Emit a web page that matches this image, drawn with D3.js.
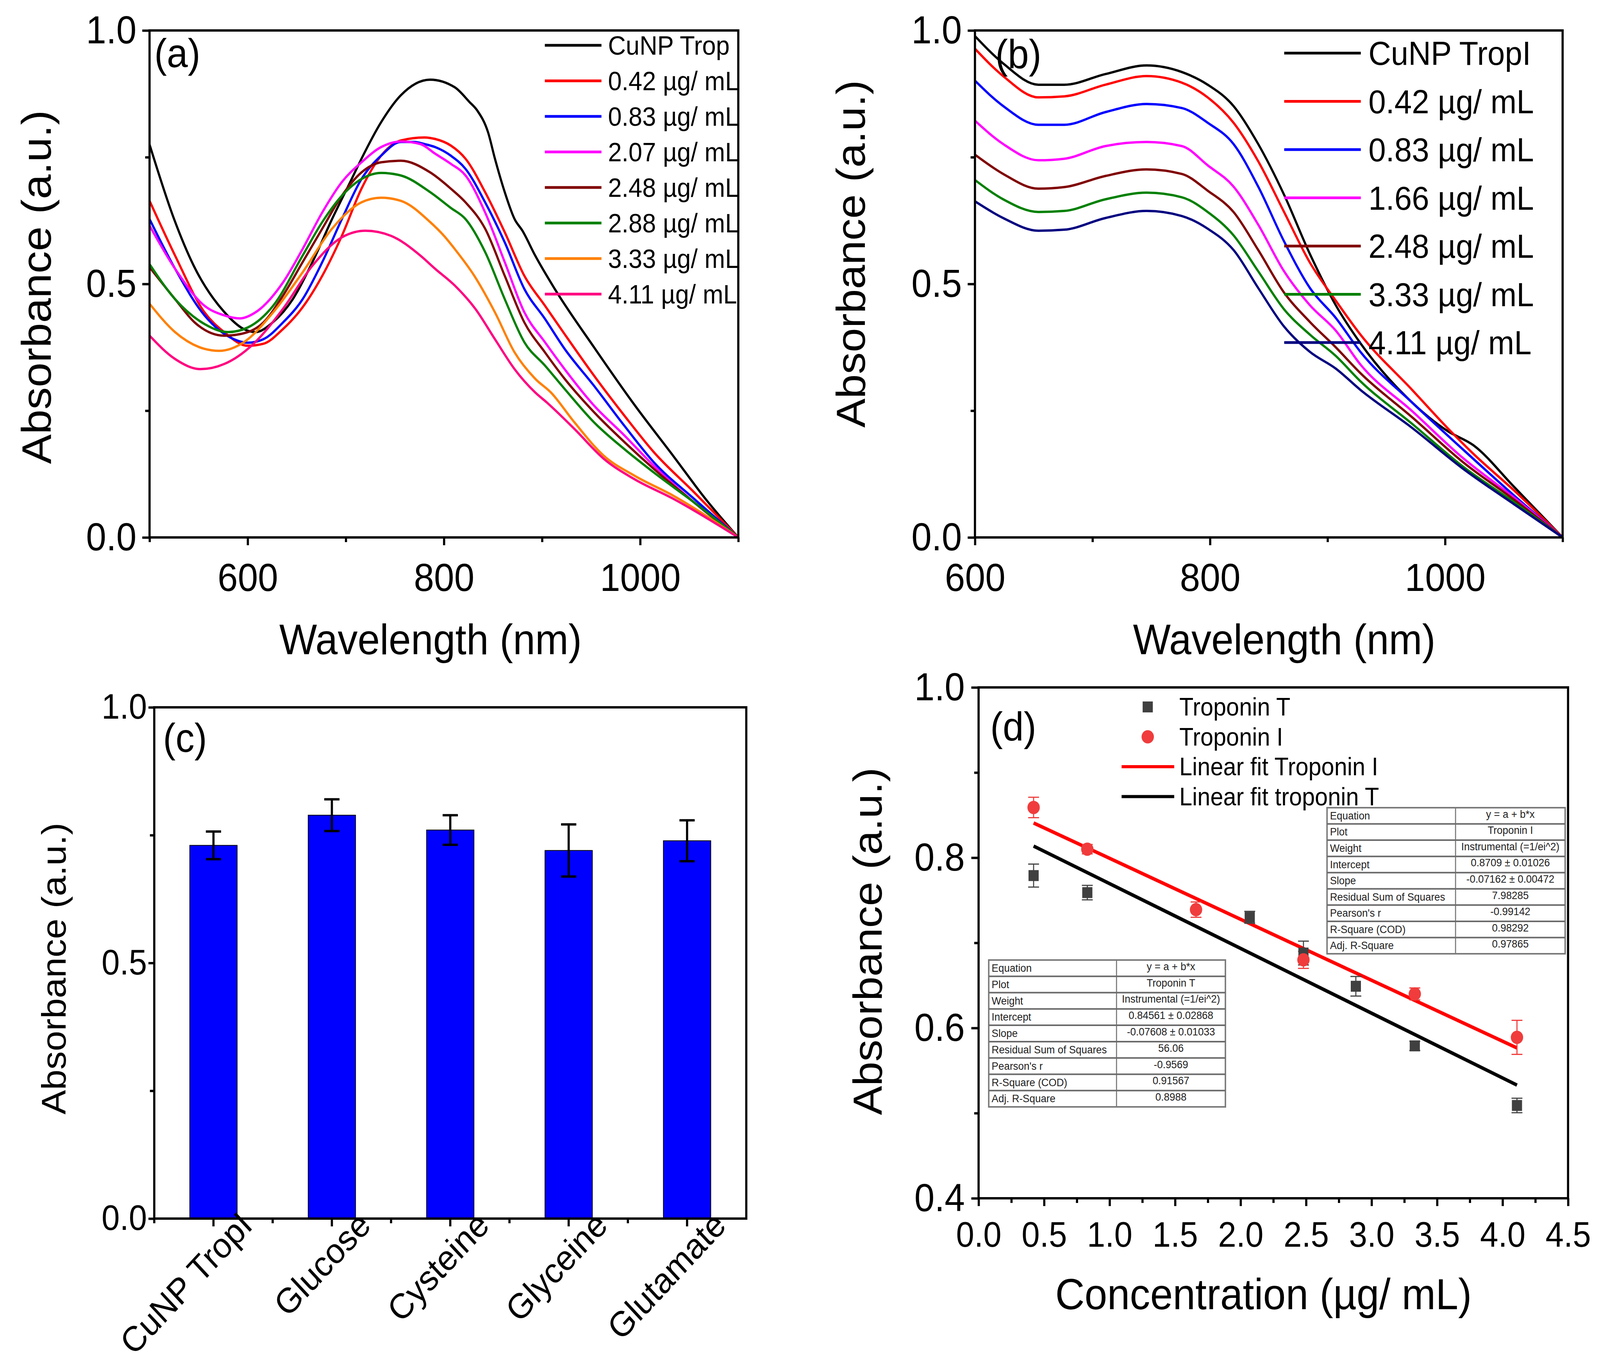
<!DOCTYPE html>
<html>
<head>
<meta charset="utf-8">
<script src="https://cdn.jsdelivr.net/npm/d3@7"></script>
<style>
  html, body { margin: 0; padding: 0; background: #fff; overflow: hidden; }
  svg { display: block; width: 100vw; height: 100vh;
        font-family: "Liberation Sans", Arial, sans-serif; }
</style>
</head>
<body>
<svg id="fig" viewBox="0 0 4408 3500" preserveAspectRatio="none"></svg>
<script>
/*********************************************************************
 * 4-panel figure: (a) (b) absorbance spectra, (c) selectivity bars,
 * (d) calibration with linear fits
 *********************************************************************/

/* ─────────────────── (a) spectra ─────────────────────────────── */
const LABELS_A = ['CuNP Trop', '0.42 µg/ mL', '0.83 µg/ mL', '2.07 µg/ mL',
                  '2.48 µg/ mL', '2.88 µg/ mL', '3.33 µg/ mL', '4.11 µg/ mL'];
const SPECTRA_A = [
  [[500,0.775],[525,0.628],[545,0.536],[576,0.445],[596,0.411],[608,0.405],[626,0.425],[646,0.470],
   [666,0.543],[686,0.628],[706,0.707],[716,0.747],[736,0.819],[756,0.872],[786,0.903],[811,0.888],
   [826,0.859],[834,0.842],[845,0.799],[852,0.747],[862,0.681],[872,0.628],[880,0.605],[893,0.556],
   [913,0.490],[953,0.375],[994,0.262],[1034,0.160],[1067,0.075],[1100,0]],
  [[500,0.664],[526,0.556],[556,0.444],[576,0.405],[600,0.378],[616,0.382],[636,0.411],[656,0.454],
   [676,0.516],[696,0.595],[716,0.688],[736,0.753],[756,0.783],[780,0.789],[791,0.786],[807,0.773],
   [822,0.747],[842,0.681],[862,0.602],[882,0.516],[903,0.457],[923,0.401],[953,0.319],[984,0.240],
   [1014,0.168],[1055,0.089],[1100,0]],
  [[500,0.628],[526,0.530],[556,0.438],[586,0.391],[600,0.384],[616,0.391],[636,0.424],[656,0.470],
   [676,0.543],[696,0.628],[716,0.707],[736,0.753],[756,0.780],[770,0.780],[780,0.776],[791,0.770],
   [807,0.753],[822,0.727],[842,0.661],[862,0.582],[882,0.490],[903,0.431],[923,0.372],[953,0.299],
   [984,0.220],[1014,0.148],[1055,0.076],[1100,0]],
  [[500,0.615],[526,0.530],[556,0.457],[576,0.438],[592,0.432],[608,0.444],[636,0.503],[656,0.569],
   [676,0.641],[696,0.701],[716,0.740],[736,0.770],[756,0.781],[776,0.776],[791,0.757],[807,0.737],
   [822,0.714],[842,0.641],[862,0.543],[882,0.444],[903,0.385],[923,0.332],[953,0.260],[984,0.201],
   [1014,0.141],[1055,0.069],[1100,0]],
  [[500,0.533],[526,0.470],[546,0.424],[576,0.398],[592,0.401],[616,0.424],[636,0.477],[656,0.543],
   [676,0.609],[696,0.674],[716,0.720],[736,0.740],[756,0.743],[786,0.720],[807,0.688],[822,0.661],
   [842,0.609],[862,0.516],[882,0.424],[903,0.365],[923,0.313],[953,0.247],[984,0.188],[1014,0.135],
   [1055,0.069],[1100,0]],
  [[500,0.539],[526,0.470],[556,0.421],[580,0.405],[600,0.414],[626,0.457],[656,0.556],[676,0.622],
   [696,0.674],[716,0.707],[736,0.719],[756,0.714],[786,0.681],[807,0.650],[822,0.628],[842,0.563],
   [862,0.470],[882,0.385],[903,0.339],[923,0.293],[953,0.227],[984,0.174],[1014,0.128],[1055,0.069],
   [1100,0]],
  [[500,0.461],[526,0.405],[556,0.372],[571,0.368],[596,0.385],[626,0.444],[656,0.523],[686,0.609],
   [716,0.661],[736,0.670],[756,0.664],[786,0.622],[800,0.595],[811,0.569],[831,0.516],[852,0.444],
   [872,0.365],[893,0.313],[909,0.286],[933,0.227],[963,0.161],[994,0.122],[1034,0.082],[1100,0]],
  [[500,0.398],[526,0.352],[552,0.332],[576,0.342],[606,0.382],[636,0.451],[666,0.536],[696,0.592],
   [720,0.605],[746,0.595],[776,0.556],[791,0.530],[811,0.497],[832,0.451],[852,0.391],[872,0.332],
   [893,0.286],[905,0.266],[933,0.214],[963,0.155],[994,0.115],[1034,0.076],[1100,0]]
];

/* ─────────────────── (b) spectra ─────────────────────────────── */
const LABELS_B = ['CuNP TropI', '0.42 µg/ mL', '0.83 µg/ mL', '1.66 µg/ mL',
                  '2.48 µg/ mL', '3.33 µg/ mL', '4.11 µg/ mL'];
const SPECTRA_B = [
  [[600,0.989],[624,0.935],[654,0.893],[676,0.893],[711,0.914],[746,0.931],[776,0.918],[798,0.893],
   [820,0.851],[841,0.776],[863,0.676],[885,0.559],[907,0.458],[928,0.383],[972,0.266],[1002,0.210],
   [1024,0.182],[1059,0.099],[1100,0]],
  [[600,0.964],[624,0.910],[654,0.868],[676,0.870],[711,0.893],[746,0.910],[776,0.897],[798,0.868],
   [820,0.818],[841,0.742],[863,0.642],[885,0.542],[907,0.467],[928,0.400],[972,0.291],[1002,0.216],
   [1024,0.165],[1059,0.092],[1100,0]],
  [[600,0.901],[624,0.851],[654,0.814],[676,0.814],[711,0.839],[746,0.855],[776,0.847],[798,0.818],
   [820,0.776],[841,0.692],[863,0.584],[885,0.492],[907,0.433],[928,0.366],[972,0.266],[1015,0.174],
   [1059,0.082],[1100,0]],
  [[600,0.822],[624,0.776],[654,0.744],[676,0.747],[711,0.772],[746,0.780],[776,0.772],[798,0.734],
   [820,0.692],[841,0.617],[863,0.525],[885,0.458],[907,0.408],[928,0.341],[972,0.249],[1015,0.157],
   [1059,0.078],[1100,0]],
  [[600,0.755],[624,0.717],[654,0.688],[676,0.691],[711,0.713],[746,0.726],[776,0.717],[798,0.684],
   [820,0.642],[841,0.567],[863,0.483],[885,0.425],[907,0.375],[928,0.324],[972,0.237],[1015,0.149],
   [1059,0.074],[1100,0]],
  [[600,0.705],[624,0.667],[654,0.642],[676,0.644],[711,0.667],[746,0.680],[776,0.671],[798,0.642],
   [820,0.596],[841,0.525],[863,0.450],[885,0.400],[907,0.358],[928,0.308],[972,0.224],[1015,0.140],
   [1059,0.069],[1100,0]],
  [[600,0.663],[624,0.630],[654,0.605],[676,0.607],[711,0.630],[746,0.644],[776,0.634],[798,0.609],
   [820,0.567],[841,0.492],[863,0.416],[885,0.366],[907,0.333],[928,0.291],[972,0.216],[1015,0.136],
   [1059,0.065],[1100,0]]
];

/* ─────────────────── (c) selectivity ─────────────────────────── */
const CATS_C = ['CuNP TropI', 'Glucose', 'Cysteine', 'Glyceine', 'Glutamate'];
const ABS_C  = [0.730, 0.789, 0.760, 0.720, 0.739];
const ERR_C  = [0.027, 0.031, 0.029, 0.051, 0.040];

/* ─────────────────── (d) calibration ─────────────────────────── */
const CONC_T = [0.42, 0.83, 2.07, 2.48, 2.88, 3.33, 4.11];
const ABS_T  = [0.779, 0.759, 0.730, 0.688, 0.649, 0.579, 0.509];
const ERR_T  = [0.0135, 0.0085, 0.007, 0.014, 0.0115, 0.0055, 0.0085];
const CONC_I = [0.42, 0.83, 1.66, 2.48, 3.33, 4.11];
const ABS_I  = [0.859, 0.810, 0.739, 0.680, 0.640, 0.589];
const ERR_I  = [0.012, 0.0055, 0.009, 0.010, 0.007, 0.020];
const FIT_I  = [0.8709, -0.07162];     // a, b
const FIT_T  = [0.84561, -0.07608];

const TABLE_I = [
  ['Equation', 'y = a + b*x'], ['Plot', 'Troponin I'], ['Weight', 'Instrumental (=1/ei^2)'],
  ['Intercept', '0.8709 ± 0.01026'], ['Slope', '-0.07162 ± 0.00472'],
  ['Residual Sum of Squares', '7.98285'], ["Pearson's r", '-0.99142'],
  ['R-Square (COD)', '0.98292'], ['Adj. R-Square', '0.97865']
];
const TABLE_T = [
  ['Equation', 'y = a + b*x'], ['Plot', 'Troponin T'], ['Weight', 'Instrumental (=1/ei^2)'],
  ['Intercept', '0.84561 ± 0.02868'], ['Slope', '-0.07608 ± 0.01033'],
  ['Residual Sum of Squares', '56.06'], ["Pearson's r", '-0.9569'],
  ['R-Square (COD)', '0.91567'], ['Adj. R-Square', '0.8988']
];

/* ─────────────────── styles ──────────────────────────────────── */
const COLORS_A = ['#000000', '#ff0000', '#0000ff', '#ff00ff', '#800000', '#008000', '#ff8000', '#ff0080'];
const COLORS_B = ['#000000', '#ff0000', '#0000ff', '#ff00ff', '#800000', '#008000', '#000080'];

const PA = { l: 412,  r: 2034, t: 78,   b: 1376 };
const PB = { l: 2686, r: 4305, t: 78,   b: 1376 };
const PC = { l: 425,  r: 2056, t: 1811, b: 3120 };
const PD = { l: 2696, r: 4320, t: 1760, b: 3068 };

const svg = d3.select('#fig');
const f1 = d3.format('.1f');

/* ─────────────────── helpers ─────────────────────────────────── */
function frame(g, p) {
  g.append('rect')
    .attr('x', p.l).attr('y', p.t)
    .attr('width', p.r - p.l).attr('height', p.b - p.t)
    .attr('fill', 'none').attr('stroke', '#000').attr('stroke-width', 6);
}

function styleAxis(sel, fs) {
  sel.attr('font-family', null).attr('font-size', null);
  sel.select('.domain').remove();
  sel.selectAll('line').attr('stroke', '#000').attr('stroke-width', 6);
  sel.selectAll('text').attr('fill', '#000').attr('font-size', fs);
}

function xAxis(g, p, x, major, minor, fmt, o) {
  g.append('g').attr('transform', `translate(0,${p.b})`)
    .call(d3.axisBottom(x).tickValues(minor).tickSize(12).tickSizeOuter(0).tickFormat(''))
    .call(s => styleAxis(s, 0));
  g.append('g').attr('transform', `translate(0,${p.b})`)
    .call(d3.axisBottom(x).tickValues(major).tickSize(20).tickSizeOuter(0)
      .tickPadding(o.pad).tickFormat(fmt))
    .call(s => styleAxis(s, o.fs));
}

function yAxis(g, p, y, major, minor, o) {
  g.append('g').attr('transform', `translate(${p.l},0)`)
    .call(d3.axisLeft(y).tickValues(minor).tickSize(12).tickSizeOuter(0).tickFormat(''))
    .call(s => styleAxis(s, 0));
  g.append('g').attr('transform', `translate(${p.l},0)`)
    .call(d3.axisLeft(y).tickValues(major).tickSize(o.tick || 20).tickSizeOuter(0)
      .tickPadding(o.pad).tickFormat(f1))
    .call(s => styleAxis(s, o.fs));
}

function yTitle(g, cx, cy, fs, txt) {
  g.append('text')
    .attr('transform', `translate(${cx},${cy}) rotate(-90)`)
    .attr('text-anchor', 'middle').attr('dominant-baseline', 'central')
    .attr('font-size', fs).text(txt);
}

function xTitle(g, cx, base, fs, txt) {
  g.append('text').attr('x', cx).attr('y', base)
    .attr('text-anchor', 'middle').attr('font-size', fs).text(txt);
}

function tag(g, x, base, txt) {
  g.append('text').attr('x', x).attr('y', base).attr('font-size', 104).text(txt);
}

/* ─────────────────── spectra panels (a) (b) ──────────────────── */
function spectraPanel(p, xDom, xMajor, xMinor, spectra, labels, colors, leg) {
  const g = svg.append('g');
  const x = d3.scaleLinear().domain(xDom).range([p.l, p.r]);
  const y = d3.scaleLinear().domain([0, 1]).range([p.b, p.t]);

  const line = d3.line()
    .x(d => x(d[0])).y(d => y(d[1]))
    .curve(d3.curveMonotoneX);

  g.append('g').attr('fill', 'none').attr('stroke-width', 6)
    .attr('stroke-linejoin', 'round')
    .selectAll('path')
    .data(spectra)
    .join('path')
      .attr('d', line)
      .attr('stroke', (_, i) => colors[i]);

  frame(g, p);
  xAxis(g, p, x, xMajor, xMinor, d3.format('d'), { pad: 46, fs: 100 });
  yAxis(g, p, y, [0, 0.5, 1], [0.25, 0.75], { pad: 16, fs: 100 });

  /* legend */
  const lg = g.append('g');
  labels.forEach((lab, i) => {
    const yy = leg.y0 + i * leg.dy;
    lg.append('line')
      .attr('x1', leg.x0).attr('x2', leg.x1).attr('y1', yy).attr('y2', yy)
      .attr('stroke', colors[i]).attr('stroke-width', 7);
    lg.append('text')
      .attr('x', leg.tx).attr('y', yy).attr('dy', '0.35em')
      .attr('font-size', leg.fs).text(lab);
  });
  return g;
}

const gA = spectraPanel(PA, [500, 1100], [600, 800, 1000], [500, 700, 900, 1100],
  SPECTRA_A, LABELS_A, COLORS_A,
  { x0: 1501, x1: 1657, tx: 1675, y0: 116, dy: 91, fs: 68 });
tag(gA, 425, 172, '(a)');
yTitle(gA, 100, 735, 114, 'Absorbance (a.u.)');
xTitle(gA, 1186, 1675, 110, 'Wavelength (nm)');

const gB = spectraPanel(PB, [600, 1100], [600, 800, 1000], [700, 900, 1100],
  SPECTRA_B, LABELS_B, COLORS_B,
  { x0: 3538, x1: 3749, tx: 3770, y0: 136, dy: 123.5, fs: 86 });
tag(gB, 2742, 174, '(b)');
yTitle(gB, 2344, 650, 112, 'Absorbance (a.u.)');
xTitle(gB, 3538, 1675, 110, 'Wavelength (nm)');

/* ─────────────────── (c) bars ────────────────────────────────── */
(function () {
  const p = PC;
  const g = svg.append('g');
  const x = d3.scaleBand().domain(CATS_C).range([p.l, p.r]);
  const y = d3.scaleLinear().domain([0, 1]).range([p.b, p.t]);
  const bw = x.bandwidth() * 0.4;
  const cx = d => x(d) + x.bandwidth() / 2;

  g.append('g').selectAll('rect')
    .data(CATS_C)
    .join('rect')
      .attr('x', d => cx(d) - bw / 2)
      .attr('width', bw)
      .attr('y', (_, i) => y(ABS_C[i]))
      .attr('height', (_, i) => y(0) - y(ABS_C[i]))
      .attr('fill', '#0000ff').attr('stroke', '#000').attr('stroke-width', 2);

  /* error bars */
  const eb = g.append('g').attr('stroke', '#000').attr('stroke-width', 6);
  CATS_C.forEach((c, i) => {
    const hi = y(ABS_C[i] + ERR_C[i]), lo = y(ABS_C[i] - ERR_C[i]);
    eb.append('line').attr('x1', cx(c)).attr('x2', cx(c)).attr('y1', hi).attr('y2', lo);
    eb.append('line').attr('x1', cx(c) - 21).attr('x2', cx(c) + 21).attr('y1', hi).attr('y2', hi);
    eb.append('line').attr('x1', cx(c) - 21).attr('x2', cx(c) + 21).attr('y1', lo).attr('y2', lo);
  });

  frame(g, p);

  /* bottom ticks: majors on bars, minors on band edges */
  const tk = g.append('g').attr('stroke', '#000').attr('stroke-width', 6);
  CATS_C.forEach(c => {
    tk.append('line').attr('x1', cx(c)).attr('x2', cx(c)).attr('y1', p.b).attr('y2', p.b + 20);
    tk.append('line').attr('x1', x(c)).attr('x2', x(c)).attr('y1', p.b).attr('y2', p.b + 12);
  });

  g.append('g').selectAll('text')
    .data(CATS_C)
    .join('text')
      .attr('transform', d => `translate(${cx(d) + 112},${p.b + 22}) rotate(-45)`)
      .attr('text-anchor', 'end')
      .attr('font-size', 90)
      .text(d => d);

  yAxis(g, p, y, [0, 0.5, 1], [0.25, 0.75], { pad: 4, fs: 90, tick: 16 });
  tag(g, 449, 1925, '(c)');
  yTitle(g, 148, 2480, 94, 'Absorbance (a.u.)');
})();

/* ─────────────────── (d) calibration ─────────────────────────── */
(function () {
  const p = PD;
  const g = svg.append('g');
  const x = d3.scaleLinear().domain([0, 4.5]).range([p.l, p.r]);
  const y = d3.scaleLinear().domain([0.4, 1.0]).range([p.b, p.t]);

  /* fit lines */
  const fitLine = (fit, xs, col) => {
    const [a, b] = fit;
    const x0 = d3.min(xs), x1 = d3.max(xs);
    g.append('line')
      .attr('x1', x(x0)).attr('y1', y(a + b * x0))
      .attr('x2', x(x1)).attr('y2', y(a + b * x1))
      .attr('stroke', col).attr('stroke-width', 9);
  };
  fitLine(FIT_T, CONC_T, '#000');
  fitLine(FIT_I, CONC_I, '#ff0000');

  /* error bars */
  const errs = (xs, ys, es, col) => {
    const e = g.append('g').attr('stroke', col).attr('stroke-width', 3);
    xs.forEach((xv, i) => {
      const X = x(xv), hi = y(ys[i] + es[i]), lo = y(ys[i] - es[i]);
      e.append('line').attr('x1', X).attr('x2', X).attr('y1', hi).attr('y2', lo);
      e.append('line').attr('x1', X - 15).attr('x2', X + 15).attr('y1', hi).attr('y2', hi);
      e.append('line').attr('x1', X - 15).attr('x2', X + 15).attr('y1', lo).attr('y2', lo);
    });
  };
  errs(CONC_T, ABS_T, ERR_T, '#444');
  errs(CONC_I, ABS_I, ERR_I, '#f03c3c');

  g.append('g').selectAll('rect')
    .data(CONC_T)
    .join('rect')
      .attr('x', d => x(d) - 14).attr('y', (_, i) => y(ABS_T[i]) - 14)
      .attr('width', 28).attr('height', 28)
      .attr('fill', '#404040');

  g.append('g').selectAll('circle')
    .data(CONC_I)
    .join('circle')
      .attr('cx', d => x(d)).attr('cy', (_, i) => y(ABS_I[i]))
      .attr('r', 17)
      .attr('fill', '#f03c3c');

  frame(g, p);
  xAxis(g, p, x, d3.range(0, 4.51, 0.5), d3.range(0.25, 4.5, 0.5), f1, { pad: 40, fs: 90 });
  yAxis(g, p, y, [0.4, 0.6, 0.8, 1.0], [0.5, 0.7, 0.9], { pad: 18, fs: 100 });

  /* legend */
  const lg = g.append('g');
  const LX = 3162, TX = 3249, L0 = 1810, LD = 76.5;
  lg.append('rect').attr('x', LX - 14).attr('y', L0 - 14).attr('width', 28).attr('height', 28)
    .attr('fill', '#404040');
  lg.append('circle').attr('cx', LX).attr('cy', L0 + LD).attr('r', 17).attr('fill', '#f03c3c');
  lg.append('line').attr('x1', 3090).attr('x2', 3235).attr('y1', L0 + 2 * LD).attr('y2', L0 + 2 * LD)
    .attr('stroke', '#ff0000').attr('stroke-width', 8);
  lg.append('line').attr('x1', 3090).attr('x2', 3235).attr('y1', L0 + 3 * LD).attr('y2', L0 + 3 * LD)
    .attr('stroke', '#000').attr('stroke-width', 8);
  ['Troponin T', 'Troponin I', 'Linear fit Troponin I', 'Linear fit troponin T'].forEach((t, i) => {
    lg.append('text').attr('x', TX).attr('y', L0 + i * LD).attr('dy', '0.35em')
      .attr('font-size', 64).text(t);
  });

  /* fit tables */
  const table = (rows, x0, xm, x1, y0, y1) => {
    const tg = g.append('g');
    const rh = (y1 - y0) / rows.length;
    tg.append('rect').attr('x', x0).attr('y', y0).attr('width', x1 - x0).attr('height', y1 - y0)
      .attr('fill', '#fff').attr('stroke', '#7a7a7a').attr('stroke-width', 4);
    tg.append('line').attr('x1', xm).attr('x2', xm).attr('y1', y0).attr('y2', y1)
      .attr('stroke', '#7a7a7a').attr('stroke-width', 3);
    rows.forEach((r, i) => {
      const ty = y0 + i * rh;
      if (i > 0) tg.append('line').attr('x1', x0).attr('x2', x1).attr('y1', ty).attr('y2', ty)
        .attr('stroke', '#6a6a6a').attr('stroke-width', 4);
      tg.append('text').attr('x', x0 + 8).attr('y', ty + rh * 0.72)
        .attr('font-size', 28).attr('fill', '#222').text(r[0]);
      tg.append('text').attr('x', (xm + x1) / 2).attr('y', ty + rh * 0.62)
        .attr('text-anchor', 'middle').attr('font-size', 28).attr('fill', '#222').text(r[1]);
    });
  };
  table(TABLE_I, 3656, 4010, 4312, 2068, 2442);
  table(TABLE_T, 2724, 3076, 3376, 2458, 2834);

  tag(g, 2728, 1896, '(d)');
  yTitle(g, 2390, 2410, 112, 'Absorbance (a.u.)');
  xTitle(g, 3481, 3352, 112, 'Concentration (µg/ mL)');
})();
</script>
</body>
</html>
